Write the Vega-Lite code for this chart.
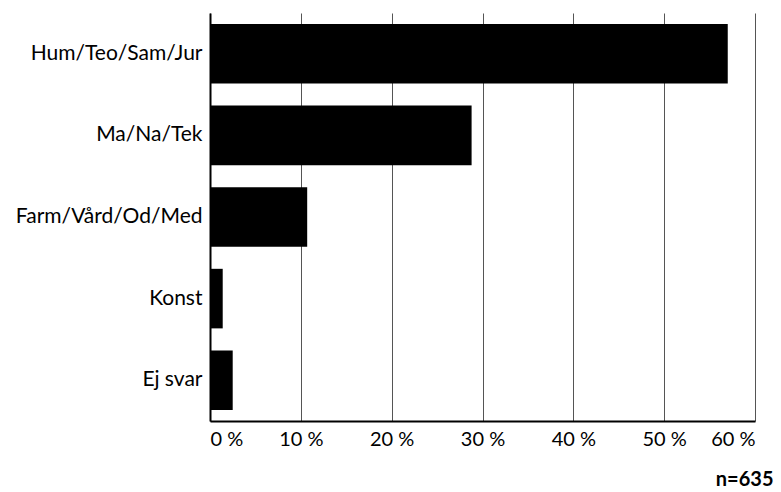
{
  "$schema": "https://vega.github.io/schema/vega-lite/v6.json",
  "width": 545,
  "height": 408,
  "autosize": "none",
  "padding": {"left": 210, "top": 13, "right": 26, "bottom": 71},
  "background": "white",
  "config": {"view": {"stroke": null}, "font": "Lato"},
  "data": {"values": [
    {"kategori": "Hum/Teo/Sam/Jur", "andel": 57.0},
    {"kategori": "Ma/Na/Tek", "andel": 28.8},
    {"kategori": "Farm/Vård/Od/Med", "andel": 10.7},
    {"kategori": "Konst", "andel": 1.4},
    {"kategori": "Ej svar", "andel": 2.5}
  ]},
  "mark": {"type": "bar", "color": "black"},
  "encoding": {
    "y": {
      "field": "kategori", "type": "nominal", "sort": null,
      "scale": {"paddingInner": 0.27, "paddingOuter": 0.135},
      "axis": {"title": null, "domainColor": "black", "domainWidth": 2, "ticks": false,
        "labelFont": "Lato", "labelFontSize": 21, "labelColor": "black", "labelPadding": 8, "labelLimit": 400}
    },
    "x": {
      "field": "andel", "type": "quantitative",
      "scale": {"domain": [0, 60], "nice": false},
      "axis": {"values": [0, 10, 20, 30, 40, 50, 60], "grid": true, "gridColor": "#555", "gridWidth": 1,
        "ticks": false, "domainColor": "black", "domainWidth": 2,
        "labelExpr": "datum.value + ' %'", "labelFont": "Lato", "labelFontSize": 20, "labelColor": "black", "labelPadding": 8,
        "title": "n=635", "titleFont": "Lato", "titleFontSize": 20, "titleFontWeight": "bold", "titleColor": "black",
        "titleAnchor": "end", "titleAlign": "right", "titleBaseline": "alphabetic", "titleX": 563, "titleY": 64}
    }
  }
}
